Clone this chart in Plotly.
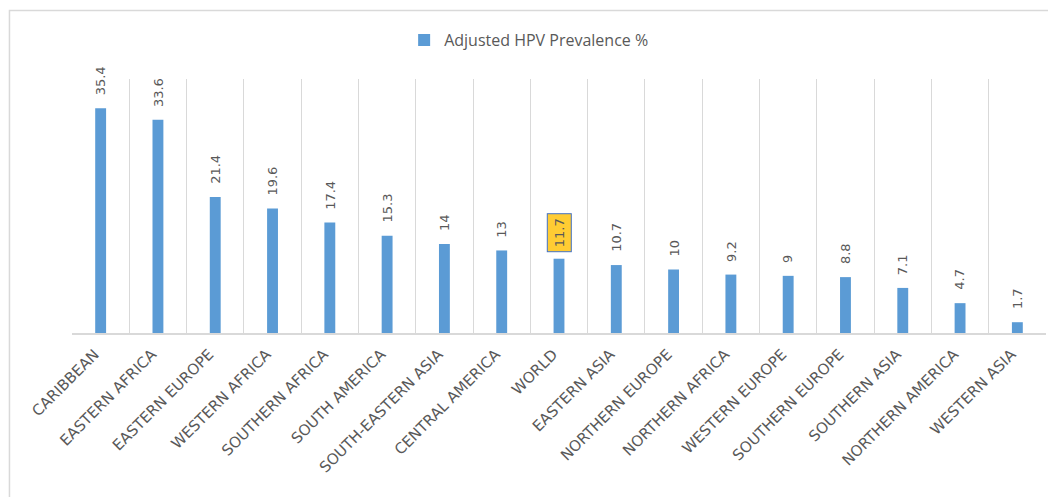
import plotly.graph_objects as go

regions = ["CARIBBEAN", "EASTERN AFRICA", "EASTERN EUROPE", "WESTERN AFRICA",
           "SOUTHERN AFRICA", "SOUTH AMERICA", "SOUTH-EASTERN ASIA", "CENTRAL AMERICA",
           "WORLD", "EASTERN ASIA", "NORTHERN EUROPE", "NORTHERN AFRICA",
           "WESTERN EUROPE", "SOUTHERN EUROPE", "SOUTHERN ASIA", "NORTHERN AMERICA",
           "WESTERN ASIA"]
prevalence = [35.4, 33.6, 21.4, 19.6, 17.4, 15.3, 14, 13, 11.7, 10.7, 10, 9.2, 9, 8.8, 7.1, 4.7, 1.7]
series_name = "Adjusted HPV Prevalence %"
highlight = "WORLD"

GRAY = "#595959"
FONT = "Open Sans"
VFONT = "DejaVu Sans"

fig = go.Figure()
fig.add_trace(go.Bar(
    x=regions, y=prevalence, name=series_name,
    marker=dict(color="#5B9BD5", line=dict(width=0)),
    width=0.19, showlegend=True,
))

annotations = []
for r, v in zip(regions, prevalence):
    label = f"{v:g}"
    if r == highlight:
        annotations.append(dict(
            x=r, y=v, xref="x", yref="y", text=label, showarrow=False,
            textangle=-90, xanchor="center", yanchor="bottom", yshift=6,
            font=dict(family=VFONT, size=13, color=GRAY),
            bgcolor="#FFCC33", bordercolor="#4472C4", borderwidth=1, borderpad=4,
        ))
    else:
        annotations.append(dict(
            x=r, y=v, xref="x", yref="y", text=label, showarrow=False,
            textangle=-90, xanchor="center", yanchor="bottom", yshift=11,
            font=dict(family=VFONT, size=13, color=GRAY),
        ))

fig.update_layout(
    width=1056, height=497,
    margin=dict(l=64, r=18, t=71, b=172),
    paper_bgcolor="white", plot_bgcolor="white",
    annotations=annotations,
    legend=dict(orientation="h", x=0.341, xanchor="left", y=1.1535, yanchor="middle",
                font=dict(family=FONT, size=16, color=GRAY), bgcolor="rgba(0,0,0,0)"),
    bargap=0.81,
    shapes=[dict(type="rect", xref="paper", yref="paper",
                 x0=-0.0642, x1=1.0092, y0=-0.75, y1=1.2697,
                 line=dict(color="#D9D9D9", width=1.5), fillcolor="rgba(0,0,0,0)",
                 layer="below")],
)
fig.update_xaxes(
    type="category", tickson="boundaries", showgrid=True, gridcolor="#D9D9D9", gridwidth=1,
    showline=True, linecolor="#D9D9D9", linewidth=1.5, ticks="", tickangle=-45,
    tickfont=dict(family="DejaVu Sans", size=15, color=GRAY), range=[-0.5, 16.5],
    ticklabelshift=-6, ticklabelstandoff=5,
    automargin=False,
)
fig.update_yaxes(range=[0, 40], showgrid=False, zeroline=False, showticklabels=False,
                 showline=False, ticks="", automargin=False)

fig.write_html("out.html")
